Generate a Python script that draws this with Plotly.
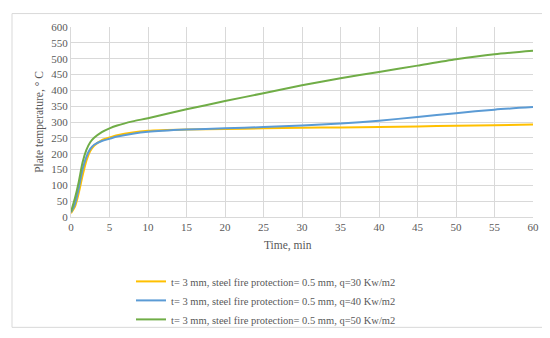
import plotly.graph_objects as go

time_min = [0, 0.5, 1, 1.5, 2, 2.5, 3, 4, 5, 6, 8, 10, 15, 20, 25, 30, 35, 40, 45, 50, 55, 60]
temp_q30 = [12, 32, 75, 130, 178, 208, 225, 243, 251, 258, 267, 272, 276, 278, 280, 282, 283, 284, 286, 288, 290, 292]
temp_q40 = [15, 40, 90, 150, 190, 215, 228, 240, 247, 254, 263, 269, 276, 280, 284, 289, 295, 304, 316, 328, 339, 347]
temp_q50 = [17, 58, 110, 172, 212, 236, 250, 268, 280, 289, 302, 312, 340, 366, 391, 416, 438, 458, 478, 498, 514, 525]
series_names = [
    "t= 3 mm, steel fire protection= 0.5 mm, q=30 Kw/m2",
    "t= 3 mm, steel fire protection= 0.5 mm, q=40 Kw/m2",
    "t= 3 mm, steel fire protection= 0.5 mm, q=50 Kw/m2",
]
colors = ["#FFC000", "#5B9BD5", "#70AD47"]

fig = go.Figure()
for name, vals, c in zip(series_names, [temp_q30, temp_q40, temp_q50], colors):
    fig.add_trace(go.Scatter(x=time_min, y=vals, mode="lines", name=name,
                             line=dict(color=c, width=2, shape="spline", smoothing=0.7)))

gray = "#595959"
W, H = 550, 338
L, R, T, B = 63, 25, 19, 121
pw, ph = W - L - R, H - T - B

def px(x):
    return (x - L) / pw

def py(y):
    return (H - B - y) / ph

fig.update_layout(
    width=W, height=H,
    margin=dict(l=L, r=R, t=T, b=B),
    paper_bgcolor="white", plot_bgcolor="white",
    font=dict(family="Liberation Serif", size=11, color=gray),
    showlegend=True,
    legend=dict(x=px(123), xanchor="left", y=py(269), yanchor="top",
                font=dict(family="Liberation Serif", size=10.5, color=gray),
                tracegroupgap=0, bgcolor="rgba(0,0,0,0)"),
    xaxis=dict(range=[0, 60], dtick=5, tick0=0, showgrid=True, gridcolor="#d9d9d9",
               zeroline=False, showline=True, linecolor="#d9d9d9", ticks="",
               tickfont=dict(size=11, color=gray)),
    yaxis=dict(range=[0, 600], dtick=50, tick0=0, showgrid=True, gridcolor="#d9d9d9",
               zeroline=False, showline=True, linecolor="#d9d9d9", ticks="",
               title=dict(text="Plate temperature, ° C", font=dict(size=11.5, color=gray), standoff=5),
               tickfont=dict(size=11, color=gray)),
    annotations=[dict(text="Time, min", xref="paper", yref="paper",
                      x=px(280), y=py(247), xanchor="center", yanchor="middle",
                      showarrow=False, font=dict(size=11.5, color=gray))],
    shapes=[dict(type="rect", xref="paper", yref="paper",
                 x0=px(4), x1=px(542), y0=py(332), y1=py(5),
                 line=dict(color="#d9d9d9", width=1), fillcolor="rgba(0,0,0,0)", layer="below")],
)
fig.write_html("out.html")
